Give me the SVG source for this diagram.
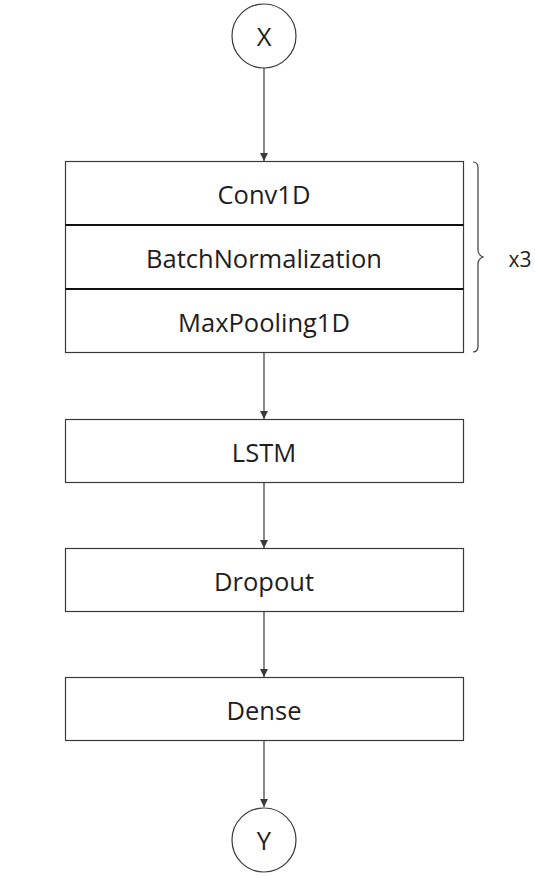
<svg xmlns="http://www.w3.org/2000/svg" width="535" height="876" viewBox="0 0 535 876">
<style>
.n{fill:#fff;stroke:#3a3a3a;stroke-width:1.2}
.t{font-family:"Open Sans",sans-serif;font-size:25.5px;fill:#1e1e1e;text-anchor:middle;dominant-baseline:central}
.c{stroke:#3a3a3a;stroke-width:1.2;fill:none}
.d{stroke:#111;stroke-width:2;fill:none}
</style>
<defs>
<marker id="a" viewBox="0 0 10 10" refX="10" refY="5" markerWidth="8" markerHeight="8" markerUnits="userSpaceOnUse" orient="auto">
<path d="M0,0 L10,5 L0,10 z" fill="#3a3a3a"/>
</marker>
</defs>
<g id="connectors">
<line class="c" x1="264" y1="68" x2="264" y2="161" marker-end="url(#a)"/>
<line class="c" x1="264" y1="353" x2="264" y2="419" marker-end="url(#a)"/>
<line class="c" x1="264" y1="483" x2="264" y2="548" marker-end="url(#a)"/>
<line class="c" x1="264" y1="612" x2="264" y2="677" marker-end="url(#a)"/>
<line class="c" x1="264" y1="741" x2="264" y2="807" marker-end="url(#a)"/>
</g>
<g id="X"><circle class="n" cx="264" cy="36" r="32"/><text class="t" x="264" y="36">X</text></g>
<g id="block">
<rect class="n" x="65.5" y="161.5" width="398" height="191"/>
<line class="d" x1="65.5" y1="225" x2="463.5" y2="225"/>
<line class="d" x1="65.5" y1="289" x2="463.5" y2="289"/>
<text class="t" x="264" y="194">Conv1D</text>
<text class="t" x="264" y="258">BatchNormalization</text>
<text class="t" x="264" y="322">MaxPooling1D</text>
</g>
<g id="brace">
<path class="c" d="M473,162 Q478,162 478,168 L478,250 Q478,255 483,257 Q478,259 478,264 L478,346 Q478,352 473,352"/>
<text class="t" x="520" y="259" style="font-size:21px">x3</text>
</g>
<g id="LSTM"><rect class="n" x="65.5" y="419.5" width="398" height="63"/><text class="t" x="264" y="452">LSTM</text></g>
<g id="Dropout"><rect class="n" x="65.5" y="548.5" width="398" height="63"/><text class="t" x="264" y="581">Dropout</text></g>
<g id="Dense"><rect class="n" x="65.5" y="677.5" width="398" height="63"/><text class="t" x="264" y="710">Dense</text></g>
<g id="Y"><circle class="n" cx="264" cy="840" r="32"/><text class="t" x="264" y="840">Y</text></g>
</svg>
